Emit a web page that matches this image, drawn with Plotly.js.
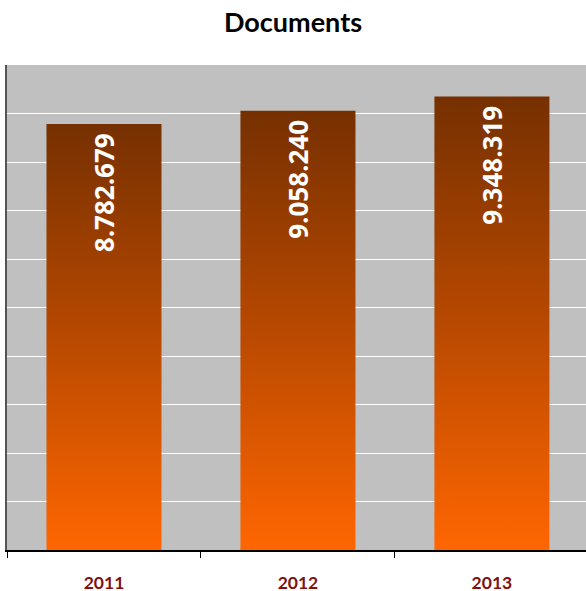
<!DOCTYPE html>
<html>
<head>
<meta charset="utf-8">
<script src="https://cdn.plot.ly/plotly-3.0.1.min.js"></script>
<style>html,body{margin:0;padding:0;background:#fff;}#chart{width:586px;height:591px;}</style>
</head>
<body>
<div id="chart"></div>
<script>
const categories = ["2011", "2012", "2013"];
const documents = [8782679, 9058240, 9348319];
const chartTitle = "Documents";

const trace = {
  type: "bar",
  x: categories,
  y: documents,
  width: 0.593,
  marker: {color: "#b84a00", line: {width: 0}},
  texttemplate: "%{y:,}<span style='font-size:24px'>\u00a0</span>",
  textposition: "inside",
  insidetextanchor: "end",
  textangle: -90,
  textfont: {family: "Open Sans, DejaVu Sans, sans-serif", size: 26, color: "#ffffff", weight: "bold"},
  hoverinfo: "none"
};

const layout = {
  width: 586, height: 591,
  margin: {l: 7, r: 0, t: 65, b: 41},
  paper_bgcolor: "#ffffff",
  plot_bgcolor: "#c0c0c0",
  separators: ",.",
  showlegend: false,
  title: {text: "<b>" + chartTitle + "</b>", x: 0.5, xanchor: "center", y: 0.961, yanchor: "middle",
          font: {family: "Lato, Open Sans, sans-serif", size: 27, color: "#000000"}},
  xaxis: {
    type: "category",
    range: [-0.5, 2.485],
    showline: true, linecolor: "#000000", linewidth: 1.5,
    ticks: "outside", ticklen: 6, tickcolor: "#000000", tickwidth: 1,
    tickson: "boundaries",
    ticklabelstandoff: 16,
    tickfont: {family: "Lato, Open Sans, sans-serif", size: 17.5, color: "#7f1010", weight: "bold"},
    showgrid: false, zeroline: false
  },
  yaxis: {
    range: [0, 10000000], dtick: 1000000, tick0: 0,
    showticklabels: false, ticks: "",
    showline: true, linecolor: "#555555", linewidth: 2,
    showgrid: true, gridcolor: "#ffffff", gridwidth: 1,
    zeroline: false
  }
};

Plotly.newPlot("chart", [trace], layout, {staticPlot: true, displayModeBar: false}).then(function () {
  const svg = document.querySelector("#chart .main-svg");
  const ns = "http://www.w3.org/2000/svg";
  let defs = svg.querySelector("defs");
  if (!defs) { defs = document.createElementNS(ns, "defs"); svg.insertBefore(defs, svg.firstChild); }
  const grad = document.createElementNS(ns, "linearGradient");
  grad.setAttribute("id", "barGrad");
  grad.setAttribute("x1", "0"); grad.setAttribute("y1", "0");
  grad.setAttribute("x2", "0"); grad.setAttribute("y2", "1");
  [["0", "#763000"], ["0.5", "#b84900"], ["1", "#ff6600"]].forEach(function (s) {
    const st = document.createElementNS(ns, "stop");
    st.setAttribute("offset", s[0]);
    st.setAttribute("stop-color", s[1]);
    grad.appendChild(st);
  });
  defs.appendChild(grad);
  document.querySelectorAll("#chart .trace.bars .point path").forEach(function (p) {
    p.style.fill = "url(#barGrad)";
  });
});
</script>
</body>
</html>
